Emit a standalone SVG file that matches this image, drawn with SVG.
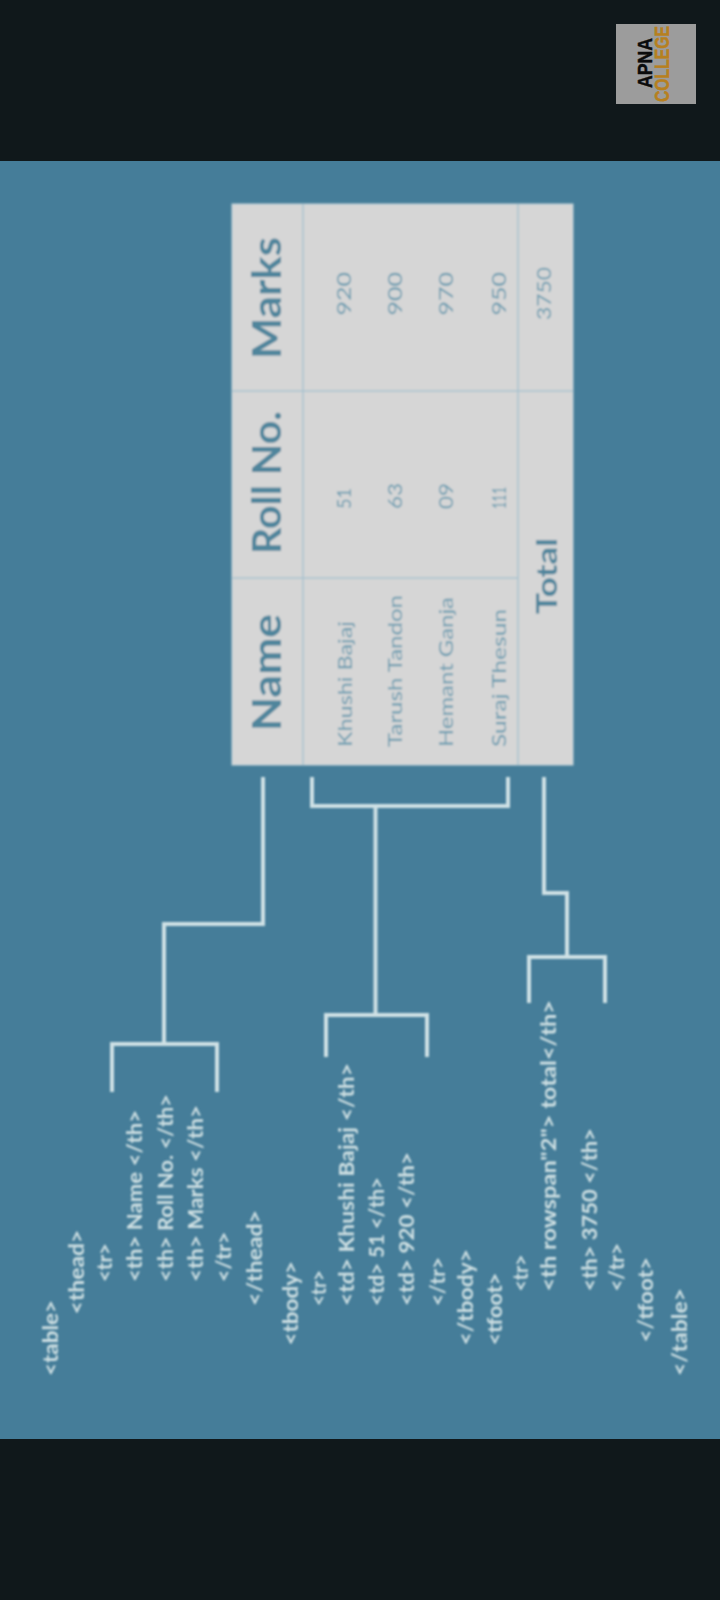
<svg xmlns="http://www.w3.org/2000/svg" width="720" height="1600" viewBox="0 0 720 1600">
<style>
text{font-family:"Lato","Open Sans","Liberation Sans",sans-serif}
.code{font-size:20px;fill:#cfe0e3;font-weight:700}
.head{font-size:40px;fill:#4f859c;font-weight:700}
.cell{font-size:20px;fill:#6d9db1}
.tot{font-size:29px;fill:#4f859c;font-weight:700}
.wire{fill:none;stroke:#cfe1e5;stroke-width:4}
.grid{fill:none;stroke:#a9c4cf;stroke-width:1.5}
</style>
<defs><filter id="soft" x="-5%" y="-5%" width="110%" height="110%"><feGaussianBlur stdDeviation="0.8"/></filter></defs>
<rect id="frame" width="720" height="1600" fill="#10181b"/>
<rect id="panel" y="161" width="720" height="1278" fill="#457d99"/>
<g id="logo">
<rect x="616" y="24" width="80" height="80" fill="#9c9c9c"/>
<text transform="translate(651.5,88) rotate(-90)" textLength="50" lengthAdjust="spacingAndGlyphs" style="font-family:'Liberation Sans',sans-serif;font-size:21px;font-weight:700;fill:#0b0b0b;stroke:#0b0b0b;stroke-width:.5">APNA</text>
<text transform="translate(669,102) rotate(-90)" textLength="76" lengthAdjust="spacingAndGlyphs" style="font-family:'Liberation Sans',sans-serif;font-size:21px;font-weight:700;fill:#b7801f;stroke:#b7801f;stroke-width:.5">COLLEGE</text>
</g>
<g id="table" filter="url(#soft)">
<rect x="232" y="204" width="341" height="561" fill="#d6d6d6" stroke="#c4d4da"/>
<path class="grid" d="M303 204V765M518 204V765M232 391H573M232 578H518"/>
<g class="head">
<text transform="translate(281,731) rotate(-90)" textLength="117" lengthAdjust="spacingAndGlyphs">Name</text>
<text transform="translate(281,554) rotate(-90)" textLength="143" lengthAdjust="spacingAndGlyphs">Roll No.</text>
<text transform="translate(281,359) rotate(-90)" textLength="122" lengthAdjust="spacingAndGlyphs">Marks</text>
</g>
<g class="cell">
<text transform="translate(352,747) rotate(-90)" textLength="126" lengthAdjust="spacingAndGlyphs">Khushi Bajaj</text>
<text transform="translate(402,747) rotate(-90)" textLength="152" lengthAdjust="spacingAndGlyphs">Tarush Tandon</text>
<text transform="translate(453,747) rotate(-90)" textLength="150" lengthAdjust="spacingAndGlyphs">Hemant Ganja</text>
<text transform="translate(506,747) rotate(-90)" textLength="138" lengthAdjust="spacingAndGlyphs">Suraj Thesun</text>
<text transform="translate(351,509) rotate(-90)" textLength="21" lengthAdjust="spacingAndGlyphs">51</text>
<text transform="translate(402,509) rotate(-90)" textLength="26" lengthAdjust="spacingAndGlyphs">63</text>
<text transform="translate(453,509) rotate(-90)" textLength="26" lengthAdjust="spacingAndGlyphs">09</text>
<text transform="translate(506,509) rotate(-90)" textLength="22" lengthAdjust="spacingAndGlyphs">111</text>
<text transform="translate(351,315.5) rotate(-90)" textLength="43.5" lengthAdjust="spacingAndGlyphs">920</text>
<text transform="translate(402,315.5) rotate(-90)" textLength="43.5" lengthAdjust="spacingAndGlyphs">900</text>
<text transform="translate(453,315.5) rotate(-90)" textLength="43.5" lengthAdjust="spacingAndGlyphs">970</text>
<text transform="translate(506,315.5) rotate(-90)" textLength="43.5" lengthAdjust="spacingAndGlyphs">950</text>
<text transform="translate(551,320) rotate(-90)" textLength="53" lengthAdjust="spacingAndGlyphs">3750</text>
</g>
<text class="tot" transform="translate(557,614) rotate(-90)" textLength="76" lengthAdjust="spacingAndGlyphs">Total</text>
</g>
<g id="connectors" class="wire" filter="url(#soft)">
<path d="M263 777V924H164V1044"/>
<path d="M112 1092V1044H217V1092"/>
<path d="M312 777V806H508V777"/>
<path d="M375.5 806V1015"/>
<path d="M326 1057V1015H427V1057"/>
<path d="M544 777V893H567V957"/>
<path d="M529 1003V957H605V1003"/>
</g>
<g id="code" class="code" filter="url(#soft)">
<text transform="translate(58,1376) rotate(-90)" textLength="76" lengthAdjust="spacingAndGlyphs">&lt;table&gt;</text>
<text transform="translate(84,1314.6) rotate(-90)" textLength="85" lengthAdjust="spacingAndGlyphs">&lt;thead&gt;</text>
<text transform="translate(112,1282) rotate(-90)" textLength="39" lengthAdjust="spacingAndGlyphs">&lt;tr&gt;</text>
<text transform="translate(142,1282) rotate(-90)" textLength="172" lengthAdjust="spacingAndGlyphs">&lt;th&gt; Name &lt;/th&gt;</text>
<text transform="translate(173,1282) rotate(-90)" textLength="188" lengthAdjust="spacingAndGlyphs">&lt;th&gt; Roll No. &lt;/th&gt;</text>
<text transform="translate(203,1282) rotate(-90)" textLength="177" lengthAdjust="spacingAndGlyphs">&lt;th&gt; Marks &lt;/th&gt;</text>
<text transform="translate(231,1282) rotate(-90)" textLength="50.5" lengthAdjust="spacingAndGlyphs">&lt;/tr&gt;</text>
<text transform="translate(262,1306) rotate(-90)" textLength="96" lengthAdjust="spacingAndGlyphs">&lt;/thead&gt;</text>
<text transform="translate(298,1345.6) rotate(-90)" textLength="84.6" lengthAdjust="spacingAndGlyphs">&lt;tbody&gt;</text>
<text transform="translate(326,1306) rotate(-90)" textLength="36" lengthAdjust="spacingAndGlyphs">&lt;tr&gt;</text>
<text transform="translate(354,1306) rotate(-90)" textLength="243" lengthAdjust="spacingAndGlyphs">&lt;td&gt; Khushi Bajaj &lt;/th&gt;</text>
<text transform="translate(384,1306) rotate(-90)" textLength="129" lengthAdjust="spacingAndGlyphs">&lt;td&gt; 51 &lt;/th&gt;</text>
<text transform="translate(414,1306) rotate(-90)" textLength="154" lengthAdjust="spacingAndGlyphs">&lt;td&gt; 920 &lt;/th&gt;</text>
<text transform="translate(445,1306) rotate(-90)" textLength="49" lengthAdjust="spacingAndGlyphs">&lt;/tr&gt;</text>
<text transform="translate(473,1345.6) rotate(-90)" textLength="96.6" lengthAdjust="spacingAndGlyphs">&lt;/tbody&gt;</text>
<text transform="translate(502,1345.6) rotate(-90)" textLength="73" lengthAdjust="spacingAndGlyphs">&lt;tfoot&gt;</text>
<text transform="translate(528,1291.6) rotate(-90)" textLength="37" lengthAdjust="spacingAndGlyphs">&lt;tr&gt;</text>
<text transform="translate(556,1291.6) rotate(-90)" textLength="291.6" lengthAdjust="spacingAndGlyphs">&lt;th rowspan"2"&gt; total&lt;/th&gt;</text>
<text transform="translate(597,1291.6) rotate(-90)" textLength="163.6" lengthAdjust="spacingAndGlyphs">&lt;th&gt; 3750 &lt;/th&gt;</text>
<text transform="translate(624,1291.6) rotate(-90)" textLength="48.6" lengthAdjust="spacingAndGlyphs">&lt;/tr&gt;</text>
<text transform="translate(653,1342.5) rotate(-90)" textLength="85.5" lengthAdjust="spacingAndGlyphs">&lt;/tfoot&gt;</text>
<text transform="translate(687,1376) rotate(-90)" textLength="88" lengthAdjust="spacingAndGlyphs">&lt;/table&gt;</text>
</g>
</svg>
